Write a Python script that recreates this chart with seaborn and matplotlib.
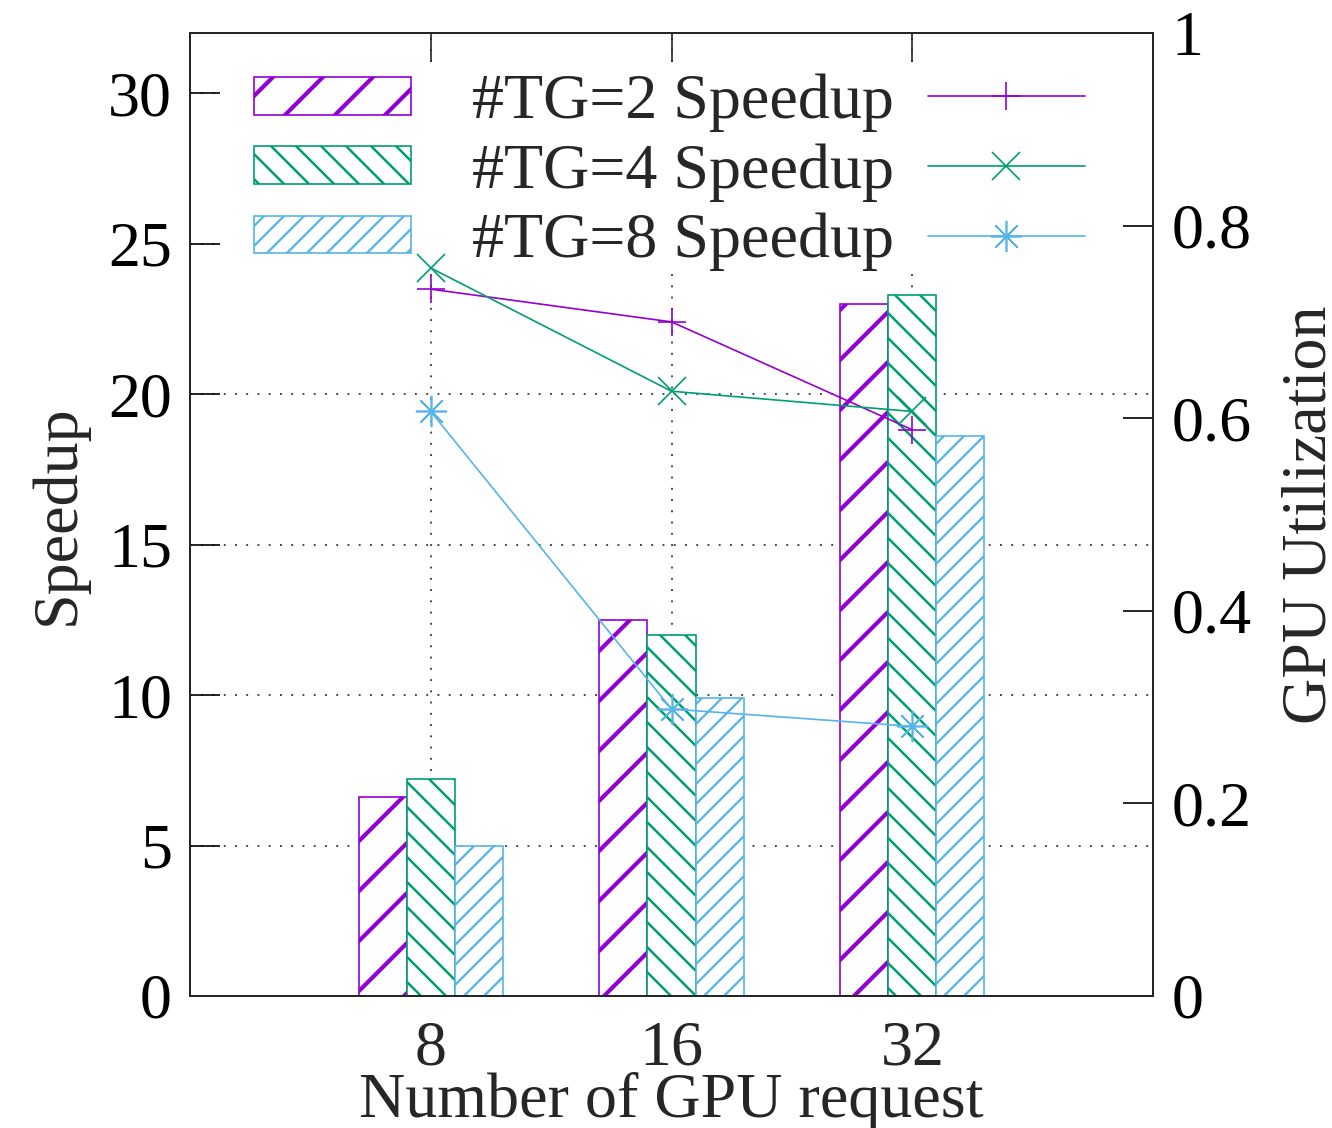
import numpy as np
import pandas as pd
import matplotlib
matplotlib.use("Agg")
import matplotlib.pyplot as plt
from matplotlib.patches import Patch, Rectangle
from matplotlib.lines import Line2D
import seaborn as sns

# data
gpu_requests = ["8", "16", "32"]
tg_labels = ["#TG=2 Speedup", "#TG=4 Speedup", "#TG=8 Speedup"]
speedup_tg2 = [6.6, 12.5, 23.0]
speedup_tg4 = [7.2, 12.0, 23.3]
speedup_tg8 = [5.0, 9.9, 18.6]
util_tg2 = [0.734, 0.700, 0.588]
util_tg4 = [0.756, 0.628, 0.607]
util_tg8 = [0.607, 0.298, 0.280]
left_ticks = [0, 5, 10, 15, 20, 25, 30]
right_ticks = [0, 0.2, 0.4, 0.6, 0.8, 1.0]
right_ticklabels = ["0", "0.2", "0.4", "0.6", "0.8", "1"]

colors = ["#9400D3", "#009E73", "#56B4E9"]
hatches = ["//", "\\\\\\\\", "/////"]
hatch_lws = [1.0, 0.6, 0.55]
markers = ["+", "x", (8, 2, 0)]
marker_sizes = [6.5, 6.5, 7.5]

bars = pd.DataFrame({
    "gpus": gpu_requests * 3,
    "tg": np.repeat(tg_labels, len(gpu_requests)),
    "speedup": speedup_tg2 + speedup_tg4 + speedup_tg8,
})
lines = pd.DataFrame({
    "pos": list(range(len(gpu_requests))) * 3,
    "tg": np.repeat(tg_labels, len(gpu_requests)),
    "util": util_tg2 + util_tg4 + util_tg8,
})

sns.set_theme(style="white")
plt.rcParams["font.family"] = ["Liberation Serif", "DejaVu Serif"]
FS = 15.36
plt.rcParams["font.size"] = FS

fig = plt.figure(figsize=(4.44, 3.76), dpi=300)
ax = fig.add_axes([190 / 1332, 132 / 1128, 963 / 1332, 963 / 1128])

sns.barplot(data=bars, x="gpus", y="speedup", hue="tg", order=gpu_requests,
            hue_order=tg_labels, palette=colors, width=0.6, errorbar=None,
            legend=False, ax=ax)
for cont, c, h, hlw in zip(ax.containers, colors, hatches, hatch_lws):
    for bar in cont:
        bar.set_facecolor("white")
        bar.set_edgecolor(c)
        bar.set_hatch(h)
        bar.set_linewidth(0.4)
        bar.set_zorder(2)
        if hasattr(bar, "set_hatch_linewidth"):
            bar.set_hatch_linewidth(hlw)

ax.set_xlim(-1, 3)
ax.set_ylim(0, 32)
ax.set_yticks(left_ticks)
ax.set_axisbelow(True)
ax.grid(True, color="0.25", linestyle=(0, (1, 5)), linewidth=0.45)
ax.set_xlabel("Number of GPU request", fontsize=FS, labelpad=-1.5)
ax.set_ylabel("Speedup", fontsize=FS, labelpad=4.8)
ax.tick_params(axis="y", direction="in", length=7.2, width=0.4, pad=4.3,
               labelsize=FS, left=True, right=False, colors="black")
ax.tick_params(axis="x", direction="in", length=7.2, width=0.4, pad=5.8,
               labelsize=FS, top=True, bottom=True)
for t in ax.xaxis.get_major_ticks():
    t.tick1line.set_visible(False)

# white key box hiding the grid
ax.add_patch(Rectangle((0.031, 0.755), 0.969, 0.215, transform=ax.transAxes,
                       facecolor="white", edgecolor="none", zorder=1.5))

ax2 = ax.twinx()
sns.lineplot(data=lines, x="pos", y="util", hue="tg", style="tg",
             hue_order=tg_labels, style_order=tg_labels, palette=colors,
             markers=dict(zip(tg_labels, markers)), dashes=False,
             errorbar=None, legend=False, linewidth=0.4, markersize=6.5,
             markeredgewidth=0.4, ax=ax2)
for ln, c, ms in zip(ax2.lines, colors, marker_sizes):
    ln.set_markeredgecolor(c)
    ln.set_markerfacecolor(c)
    ln.set_markersize(ms)
ax2.set_ylim(0, 1)
ax2.set_yticks(right_ticks)
ax2.set_yticklabels(right_ticklabels)
ax2.set_ylabel("GPU Utilization", fontsize=FS, labelpad=7.0)
ax2.tick_params(axis="y", direction="in", length=7.2, width=0.4, pad=4.5,
                labelsize=FS, right=True, colors="black")
ax2.set_xlim(-1, 3)

for a in (ax, ax2):
    for s in a.spines.values():
        s.set_linewidth(0.45)
        s.set_color("0.15")

bar_handles = [Patch(facecolor="white", edgecolor=c, hatch=h, linewidth=0.4)
               for c, h in zip(colors, hatches)]
leg1 = ax2.legend(bar_handles, tg_labels, loc="upper left",
                  bbox_to_anchor=(254 / 1332, 1 - 74 / 1128),
                  bbox_transform=fig.transFigure, frameon=False, fontsize=FS,
                  borderpad=0, borderaxespad=0, handlelength=2.45,
                  handleheight=0.53, handletextpad=0.95, labelspacing=0.17)
for lh, hlw in zip(leg1.legend_handles, hatch_lws):
    if hasattr(lh, "set_hatch_linewidth"):
        lh.set_hatch_linewidth(hlw)
ax2.add_artist(leg1)

line_handles = [Line2D([], [], color=c, marker=m, linewidth=0.4,
                       markersize=ms, markeredgewidth=0.4)
                for c, m, ms in zip(colors, markers, marker_sizes)]
ax2.legend(line_handles, [" "] * 3, loc="upper left",
           bbox_to_anchor=(928 / 1332, 1 - 74 / 1128),
           bbox_transform=fig.transFigure, frameon=False, fontsize=FS,
           borderpad=0, borderaxespad=0, handlelength=2.45,
           handletextpad=0.0, labelspacing=0.17)

fig.savefig("out.png", dpi=300)
